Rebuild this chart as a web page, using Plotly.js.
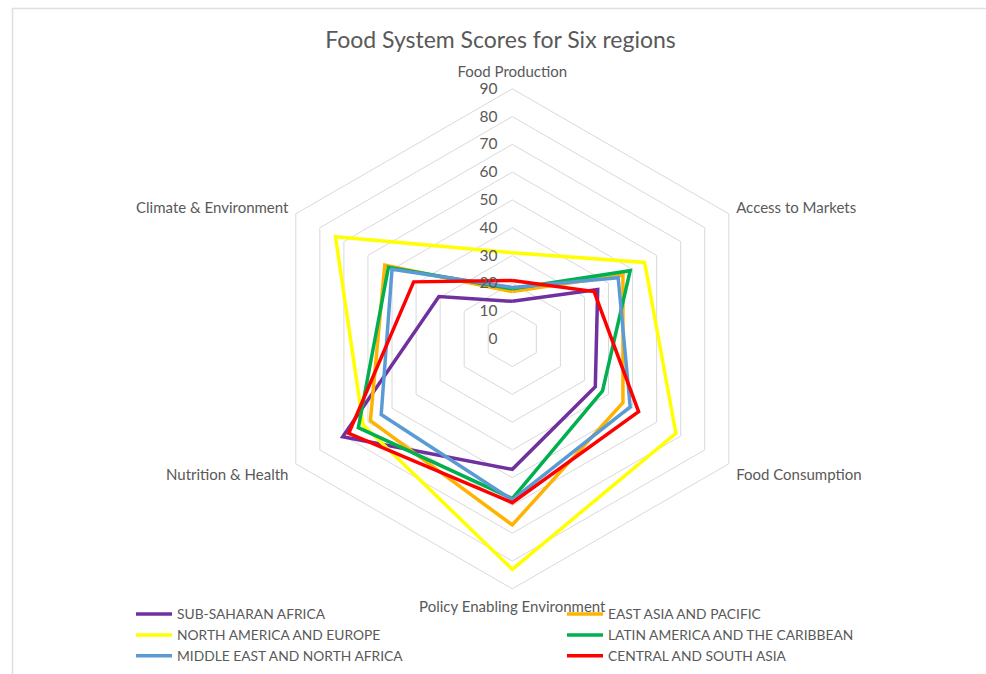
<!DOCTYPE html>
<html>
<head>
<meta charset="utf-8">
<script src="https://cdn.plot.ly/plotly-3.0.1.min.js"></script>
<style>
html,body{margin:0;padding:0;background:#fff;}
#chart{width:986px;height:674px;}
</style>
</head>
<body>
<div id="chart"></div>
<script>
const categories = ["Food Production", "Access to Markets", "Food Consumption", "Policy Enabling Environment", "Nutrition & Health", "Climate & Environment"];
const seriesNames = ["SUB-SAHARAN AFRICA", "EAST ASIA AND PACIFIC", "NORTH AMERICA AND EUROPE", "LATIN AMERICA AND THE CARIBBEAN", "MIDDLE EAST AND NORTH AFRICA", "CENTRAL AND SOUTH ASIA"];
const subSaharanAfrica = [13.5, 35.5, 34.5, 47, 70.5, 30.5];
const eastAsiaPacific = [17, 46, 46, 67, 59, 53];
const northAmericaEurope = [31, 55, 68, 83, 62, 73.5];
const latinAmericaCaribbean = [18, 49, 37.5, 57.5, 64, 51.5];
const middleEastNorthAfrica = [18.5, 44, 49, 58, 54.5, 50];
const centralSouthAsia = [21, 34, 52.5, 59, 68, 41];
const seriesValues = [subSaharanAfrica, eastAsiaPacific, northAmericaEurope, latinAmericaCaribbean, middleEastNorthAfrica, centralSouthAsia];
const seriesColors = ["#7030A0", "#FFB300", "#FFFF00", "#00B050", "#5B9BD5", "#FF0000"];
const radialTicks = [0, 10, 20, 30, 40, 50, 60, 70, 80, 90];

const FONT = "Lato, 'Open Sans', sans-serif";
const GRID = "#d9d9d9";
const TXT = "#595959";
const PAD = "\u00a0\u00a0\u00a0";

const traces = seriesNames.map((name, i) => ({
  type: "scatterpolar",
  mode: "lines",
  name: name,
  r: seriesValues[i].concat([seriesValues[i][0]]),
  theta: categories.concat([categories[0]]),
  line: {color: seriesColors[i], width: 3.5, shape: "linear"},
  hoverinfo: "skip"
}));

const layout = {
  width: 986, height: 674,
  margin: {l: 0, r: 0, t: 0, b: 0, autoexpand: false},
  paper_bgcolor: "#ffffff",
  plot_bgcolor: "#ffffff",
  font: {family: FONT, color: TXT, size: 13},
  title: {
    text: "Food System Scores for Six regions",
    x: 500.5/986, xref: "container", xanchor: "center",
    y: 1 - 40/674, yref: "container", yanchor: "middle",
    font: {family: FONT, size: 23, color: TXT}
  },
  polar: {
    domain: {x: [262.3/986, 762.3/986], y: [85.2/674, 585.2/674]},
    bgcolor: "#ffffff",
    gridshape: "linear",
    angularaxis: {
      direction: "clockwise",
      rotation: 90,
      showgrid: false,
      showline: true,
      linecolor: GRID,
      linewidth: 1,
      ticks: "outside",
      ticklen: 5,
      tickcolor: "rgba(0,0,0,0)",
      tickfont: {family: FONT, size: 15, color: TXT},
      categoryorder: "array",
      categoryarray: categories
    },
    radialaxis: {
      range: [0, 90],
      tickvals: radialTicks,
      ticktext: radialTicks.map(v => String(v) + PAD),
      angle: 90,
      side: "counterclockwise",
      tickangle: 90,
      showline: false,
      ticks: "",
      gridcolor: GRID,
      gridwidth: 1,
      tickfont: {family: FONT, size: 15.5, color: TXT}
    }
  },
  showlegend: true,
  legend: {
    orientation: "h",
    x: 131/986, xanchor: "left",
    y: 1 - 598.5/674, yanchor: "top",
    entrywidth: 380,
    entrywidthmode: "pixels",
    tracegroupgap: 0,
    itemwidth: 36,
    font: {family: FONT, size: 13.8, color: TXT},
    bgcolor: "rgba(0,0,0,0)"
  },
  shapes: [{
    type: "rect", xref: "paper", yref: "paper",
    x0: 12.5/986, x1: 1.02, y0: -0.02, y1: 1 - 8.5/674,
    line: {color: "#e0e0e0", width: 1.5},
    layer: "below"
  }]
};

Plotly.newPlot("chart", traces, layout, {displayModeBar: false, staticPlot: true});
</script>
</body>
</html>
